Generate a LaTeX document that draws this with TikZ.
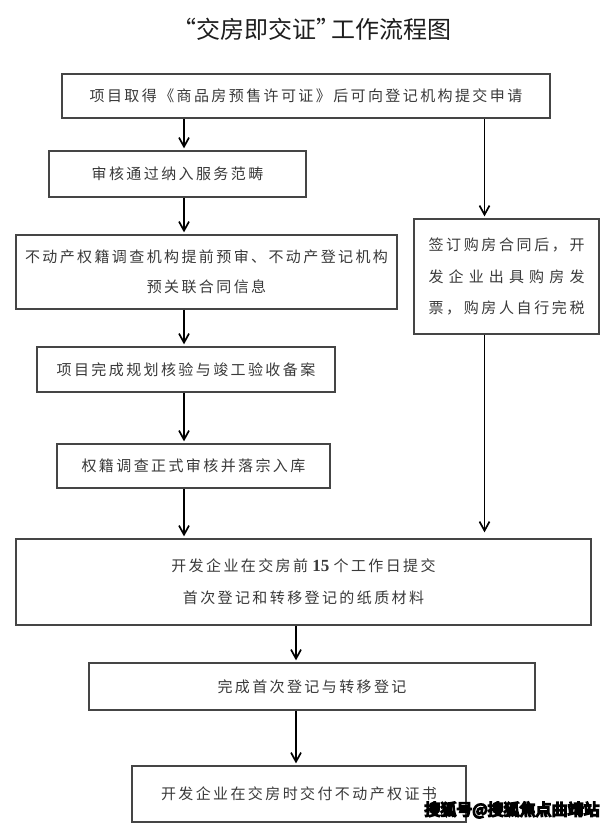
\documentclass[tikz,border=0pt]{standalone}
\usepackage{fontspec}
\setmainfont{Liberation Serif}
\newfontfamily\cjk{Noto Sans CJK SC}
\newfontfamily\cjkls{Noto Sans CJK SC}[LetterSpace=16]
\newfontfamily\wmfont{Noto Sans CJK SC}[FakeBold=10]
\usetikzlibrary{arrows.meta}
\definecolor{txtgray}{HTML}{3A3A3A}
\definecolor{boxgray}{HTML}{454545}
\definecolor{titlecol}{HTML}{1E1E1E}
\tikzset{
  box/.style={draw=boxgray, line width=1.3pt, rectangle, inner sep=0pt,
    text=txtgray, align=center, font=\fontsize{15}{30}\selectfont\cjkls},
  arr/.style={draw=black, line width=1.9pt, shorten >=2pt,
    -{Straight Barb[length=9pt,width=10pt,line width=1.7pt]}},
  titlestyle/.style={inner sep=0pt, text=titlecol, font=\fontsize{24}{28}\selectfont\cjk},
  wmstyle/.style={inner sep=0pt, text=white, font=\fontsize{16}{18}\selectfont\wmfont}
}
\begin{document}
\begin{tikzpicture}[x=1pt,y=-1pt]
\useasboundingbox[fill=white] (0,0) rectangle (610,826);
\coordinate (xl) at (184,0);
\coordinate (xr) at (484.5,0);
\coordinate (xm) at (296,0);

\node[titlestyle] (title) at (312,29) {“交房即交证”\kern-9pt 工作流程图};

\node[box, minimum width=488pt, minimum height=44pt] (b1) at (306,96)
  {项目取得《商品房预售许可证》后可向登记机构提交申请};
\node[box, minimum width=257pt, minimum height=46pt] (b2) at (177.5,174)
  {审核通过纳入服务范畴};
\node[box, minimum width=381pt, minimum height=74pt] (b3) at (206.5,272)
  {\raisebox{-4pt}{\parbox{375pt}{\centering 不动产权籍调查机构提前预审、不动产登记机构\\预关联合同信息}}};
\node[box, minimum width=298pt, minimum height=45pt] (b4) at (186,369.5)
  {项目完成规划核验与竣工验收备案};
\node[box, minimum width=273pt, minimum height=44pt] (b5) at (193.5,466)
  {权籍调查正式审核并落宗入库};
\node[box, minimum width=185pt, minimum height=115pt, font=\fontsize{15}{31.5}\selectfont\cjk] (bR) at (506.5,276.5)
  {\hbox to 156pt{签\hfil 订\hfil 购\hfil 房\hfil 合\hfil 同\hfil 后\hfil ，\hfil 开}\\
   \hbox to 156pt{发\hfil 企\hfil 业\hfil 出\hfil 具\hfil 购\hfil 房\hfil 发}\\
   \hbox to 156pt{票\hfil ，\hfil 购\hfil 房\hfil 人\hfil 自\hfil 行\hfil 完\hfil 税}};
\node[box, minimum width=575pt, minimum height=86pt, font=\fontsize{15}{32}\selectfont\cjkls] (b6) at (303.5,582)
  {开发企业在交房前{\fontsize{17}{32}\selectfont\rmfamily\bfseries\ 15 }个工作日提交\\首次登记和转移登记的纸质材料};
\node[box, minimum width=446pt, minimum height=47pt] (b7) at (312,686.5)
  {完成首次登记与转移登记};
\node[box, minimum width=334pt, minimum height=56pt] (b8) at (299,794)
  {开发企业在交房时交付不动产权证书};

\draw[arr] (b1.south -| xl) -- (b2.north -| xl);
\draw[arr] (b2.south -| xl) -- (b3.north -| xl);
\draw[arr] (b3.south -| xl) -- (b4.north -| xl);
\draw[arr] (b4.south -| xl) -- (b5.north -| xl);
\draw[arr] (b5.south -| xl) -- (b6.north -| xl);
\draw[arr] (b1.south -| xr) -- (bR.north -| xr);
\draw[arr, shorten >=6pt] (bR.south -| xr) -- (b6.north -| xr);
\draw[arr] (b6.south -| xm) -- (b7.north -| xm);
\draw[arr] (b7.south -| xm) -- (b8.north -| xm);

\node[wmstyle] (wm) at (512,810)
  {\special{pdf:literal direct 0 G}搜狐号@搜狐焦点曲靖站};
\end{tikzpicture}
\end{document}
